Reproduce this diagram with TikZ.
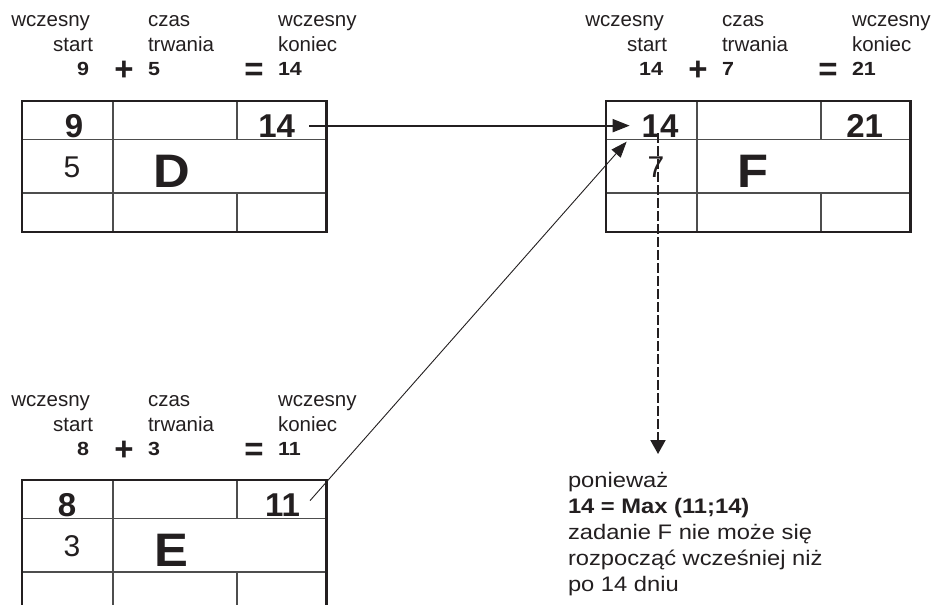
\documentclass[tikz,border=0pt]{standalone}
\usepackage{fontspec}
\setmainfont{Liberation Sans}
\newfontfamily\widefont{Liberation Sans}[FakeStretch=1.13]
\newfontfamily\xwidefont{Liberation Sans}[FakeStretch=1.08]
\usetikzlibrary{arrows.meta}
\definecolor{ink}{HTML}{231F20}
\definecolor{rulegray}{HTML}{4D4D4D}

\tikzset{
  every node/.style={inner sep=0pt, outer sep=0pt, text=ink},
  lbl/.style={font=\fontsize{20.5}{25}\selectfont},
  numl/.style={font=\widefont\bfseries\fontsize{19}{21}\selectfont},
  opl/.style={font=\bfseries\fontsize{33}{36}\selectfont},
  cellnum/.style={font=\bfseries\fontsize{33}{36}\selectfont},
  durnum/.style={font=\fontsize{30}{34}\selectfont},
  letter/.style={font=\xwidefont\bfseries\fontsize{47}{50}\selectfont},
  boxframe/.style={draw=ink, line width=2.6pt},
  gridline/.style={draw=rulegray, line width=1.3pt},
  boxarea/.style={minimum width=304.5pt, minimum height=131pt, draw=none},
  mainarrow/.style={draw=ink, line width=2pt, -{Triangle[length=17pt,width=13pt]}},
  thinarrow/.style={draw=ink, line width=0.9pt, -{Triangle[length=16pt,width=12pt]}},
  dasharrow/.style={draw=ink, line width=2pt, dash pattern=on 10pt off 3pt,
                    -{Triangle[length=14pt,width=15pt]}},
  reason/.style={font=\widefont\fontsize{21}{26}\selectfont, align=left}
}

% task header labels: #1 prefix, #2 right edge of first column, #3 first baseline,
% #4 start, #5 duration, #6 end
\newcommand\TaskHead[6]{%
  \node[lbl, anchor=base east] (#1w1) at (#2-2, #3) {wczesny};
  \node[lbl, anchor=base east] (#1st) at (#2+1, #3+25) {start};
  \node[numl, anchor=base east] (#1n1) at (#2-3, #3+49) {#4};
  \node[opl, anchor=base] (#1plus) at (#2+32, #3+54) {+};
  \node[lbl, anchor=base west] (#1cz) at (#2+56, #3) {czas};
  \node[lbl, anchor=base west] (#1tr) at (#2+56, #3+25) {trwania};
  \node[numl, anchor=base west] (#1n2) at (#2+56, #3+49) {#5};
  \node[opl, anchor=base] (#1eq) at (#2+162, #3+54) {=};
  \node[lbl, anchor=base west] (#1w2) at (#2+186, #3) {wczesny};
  \node[lbl, anchor=base west] (#1ko) at (#2+186, #3+25) {koniec};
  \node[numl, anchor=base west] (#1n3) at (#2+186, #3+49) {#6};
}

% task box grid: #1 name, #2 left, #3 top
\newcommand\TaskGrid[3]{%
  \node[boxarea, anchor=north west] (#1) at (#2, #3) {};
  \draw[gridline] ([yshift=-38.5pt]#1.north west) -- ([yshift=-38.5pt]#1.north east);
  \draw[gridline] ([yshift=-92pt]#1.north west) -- ([yshift=-92pt]#1.north east);
  \draw[gridline] ([xshift=91pt]#1.north west) -- ([xshift=91pt]#1.south west);
  \draw[gridline] ([xshift=215pt]#1.north west) -- ([xshift=215pt,yshift=-38.5pt]#1.north west);
  \draw[gridline] ([xshift=215pt,yshift=-92pt]#1.north west) -- ([xshift=215pt]#1.south west);
  \draw[boxframe] (#1.north west) rectangle (#1.south east);
}

\begin{document}
\begin{tikzpicture}[x=1pt, y=-1pt]
  \clip (0,0) rectangle (935,605);
  \fill[white] (0,0) rectangle (935,605);

  % ---- task D ----
  \TaskHead{hD}{92}{26}{9}{5}{14}
  \TaskGrid{boxD}{22}{101}
  \node[cellnum, anchor=base] (D9) at (74,137) {9};
  \node[cellnum, anchor=base east] (D14) at (295,137) {14};
  \node[durnum, anchor=base] (D5) at (72,177) {5};
  \node[letter, anchor=base] (Dl) at (172,187) {D};

  % ---- task F ----
  \TaskHead{hF}{666}{26}{14}{7}{21}
  \TaskGrid{boxF}{606}{101}
  \node[cellnum, anchor=base] (F14) at (660,137) {14};
  \node[cellnum, anchor=base east] (F21) at (883,137) {21};
  \node[durnum, anchor=base] (F7) at (656,177) {7};
  \node[letter, anchor=base] (Fl) at (753,187) {F};

  % ---- task E ----
  \TaskHead{hE}{92}{406}{8}{3}{11}
  \TaskGrid{boxE}{22}{480}
  \node[cellnum, anchor=base] (E8) at (67,516) {8};
  \node[cellnum, anchor=base east] (E11) at (300,516) {11};
  \node[durnum, anchor=base] (E3) at (72,556) {3};
  \node[letter, anchor=base] (El) at (171,566) {E};

  % ---- explanation ----
  \node[reason, anchor=base west] (why) at (568,591)
    {ponieważ\\\textbf{14 = Max (11;14)}\\zadanie F nie może się\\rozpocząć wcześniej niż\\po 14 dniu};
  \coordinate (whytop) at (658,454);

  % ---- connectors ----
  \draw[mainarrow] ([xshift=14pt]D14.east) -- ([xshift=-12pt]F14.west);
  \draw[thinarrow] ([xshift=10pt,yshift=4pt]E11.east) -- ([xshift=-15pt,yshift=-16pt]F14.west);
  \draw[dasharrow] ([xshift=-2pt,yshift=4pt]F14.south) -- (whytop);
\end{tikzpicture}
\end{document}
